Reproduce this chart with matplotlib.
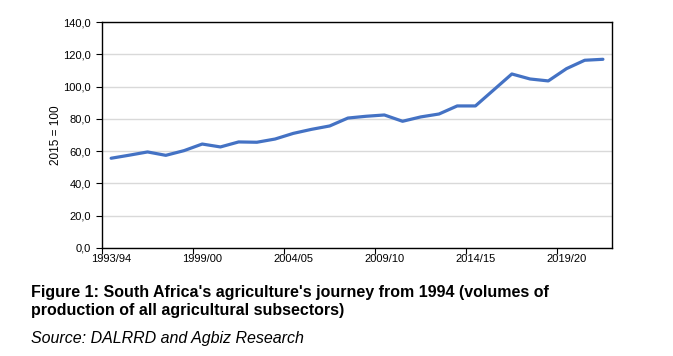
import matplotlib.pyplot as plt
from matplotlib.ticker import FixedLocator, FuncFormatter

# seasons shown on the category axis (28 points, labels every 5th)
seasons = ["1993/94"] + [f"{y}/{str(y + 1)[-2:]}" for y in range(1995, 2022)]
label_idx = [0, 5, 10, 15, 20, 25]
label_txt = ["1993/94", "1999/00", "2004/05", "2009/10", "2014/15", "2019/20"]

# volume index, 2015 = 100
index_vals = [55.6, 57.5, 59.5, 57.4, 60.3, 64.4, 62.6, 65.7, 65.5, 67.5,
              71.0, 73.5, 75.6, 80.5, 81.6, 82.4, 78.5, 81.2, 83.0, 88.0,
              88.0, 97.9, 107.8, 104.7, 103.5, 111.1, 116.3, 116.9]

arial = ['Liberation Sans', 'DejaVu Sans']

fig = plt.figure(figsize=(6.73, 3.56), dpi=100)
ax = fig.add_axes([0.1516, 0.3034, 0.7578, 0.6348])

x = list(range(len(index_vals)))
ax.plot(x, index_vals, color='#4472C4', lw=2.3, solid_capstyle='round',
        solid_joinstyle='round', zorder=3)

ax.set_xlim(-0.5, len(index_vals) - 0.5)
ax.set_ylim(0, 140)
ax.set_yticks(range(0, 141, 20))
ax.yaxis.set_major_formatter(FuncFormatter(lambda v, p: f"{v:.1f}".replace('.', ',')))
ax.grid(axis='y', color='#d9d9d9', lw=1, zorder=0)

# tick marks between categories, labels centred on categories
ax.xaxis.set_major_locator(FixedLocator([i - 0.5 for i in label_idx]))
ax.xaxis.set_major_formatter(FuncFormatter(lambda v, p: ''))
ax.xaxis.set_minor_locator(FixedLocator(label_idx))
ax.set_xticklabels(label_txt, minor=True)
ax.tick_params(axis='x', which='minor', length=0, pad=4)
ax.tick_params(axis='x', which='major', length=4, width=0.8, direction='out')
ax.tick_params(axis='y', length=4, width=0.8, direction='out', pad=4)

for lab in ax.get_yticklabels() + ax.get_xticklabels(minor=True):
    lab.set_family(arial)
    lab.set_fontsize(8)

for sp in ax.spines.values():
    sp.set_color('black')
    sp.set_linewidth(1.0)

ax.set_ylabel("2015 = 100", family=arial, fontsize=8.5, labelpad=1)

fig.text(31 / 673, 1 - 301.5 / 356,
         "Figure 1: South Africa's agriculture's journey from 1994 (volumes of\n"
         "production of all agricultural subsectors)",
         family=arial, fontsize=11.5, fontweight='bold', va='center',
         linespacing=1.3)
fig.text(31 / 673, 1 - 339 / 356, "Source: DALRRD and Agbiz Research",
         family=arial, fontsize=11.5, style='italic', va='center')

fig.savefig('out.png', dpi=100)
plt.close(fig)
